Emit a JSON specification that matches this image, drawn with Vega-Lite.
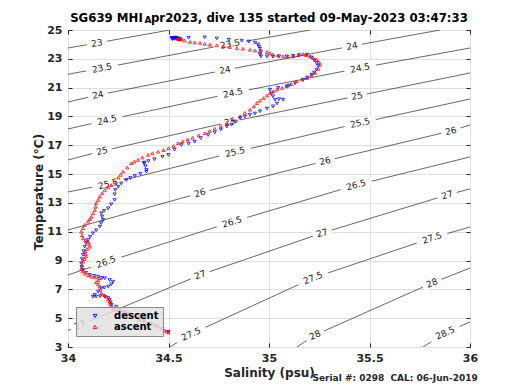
{
  "$schema": "https://vega.github.io/schema/vega-lite/v6.json",
  "width": 402,
  "height": 317,
  "autosize": {"type": "none"},
  "padding": {"left": 68, "top": 30, "right": 50, "bottom": 43},
  "background": "#ffffff",
  "title": {
    "text": "SG639 MHI \u00a0pr2023, dive 135 started 09-May-2023 03:47:33",
    "anchor": "middle",
    "frame": "group",
    "font": "DejaVu Sans",
    "fontSize": 11.75,
    "fontWeight": "bold",
    "color": "#000000",
    "baseline": "alphabetic",
    "offset": 0,
    "dy": 18.5
  },
  "config": {
    "view": {"stroke": "#262626", "strokeWidth": 1},
    "axis": {
      "labelFont": "DejaVu Sans",
      "titleFont": "DejaVu Sans",
      "labelColor": "#262626",
      "titleColor": "#262626",
      "tickColor": "#262626",
      "gridColor": "#dfdfdf",
      "gridWidth": 1
    },
    "legend": {
      "orient": "none",
      "legendX": 8,
      "legendY": 277,
      "fillColor": "rgba(226,226,226,0.85)",
      "strokeColor": "#8a8a8a",
      "padding": 4,
      "labelFont": "DejaVu Sans",
      "labelFontSize": 10,
      "labelFontWeight": "bold",
      "labelColor": "#000000",
      "symbolSize": 14,
      "symbolStrokeWidth": 0.9,
      "symbolOffset": 10,
      "labelOffset": 14,
      "rowPadding": 1
    }
  },
  "datasets": {
    "contours": [
      {"lev": "23", "S": 34.0, "T": 23.75}, {"lev": "23", "S": 34.144, "T": 24.1}, {"lev": "23", "S": 34.507, "T": 25.0},
      {"lev": "23.5", "S": 34.0, "T": 21.93}, {"lev": "23.5", "S": 34.169, "T": 22.36}, {"lev": "23.5", "S": 34.806, "T": 24.03}, {"lev": "23.5", "S": 35.204, "T": 25.0},
      {"lev": "24", "S": 34.0, "T": 20.0}, {"lev": "24", "S": 34.149, "T": 20.49}, {"lev": "24", "S": 34.781, "T": 22.22}, {"lev": "24", "S": 35.413, "T": 23.89}, {"lev": "24", "S": 35.851, "T": 25.0},
      {"lev": "24.5", "S": 34.0, "T": 18.13}, {"lev": "24.5", "S": 34.194, "T": 18.75}, {"lev": "24.5", "S": 34.821, "T": 20.63}, {"lev": "24.5", "S": 35.453, "T": 22.36}, {"lev": "24.5", "S": 36.0, "T": 23.75},
      {"lev": "25", "S": 34.0, "T": 15.98}, {"lev": "25", "S": 34.169, "T": 16.6}, {"lev": "25", "S": 34.806, "T": 18.62}, {"lev": "25", "S": 35.438, "T": 20.42}, {"lev": "25", "S": 36.0, "T": 22.02},
      {"lev": "25.5", "S": 34.0, "T": 13.76}, {"lev": "25.5", "S": 34.199, "T": 14.31}, {"lev": "25.5", "S": 34.831, "T": 16.53}, {"lev": "25.5", "S": 35.453, "T": 18.55}, {"lev": "25.5", "S": 36.0, "T": 20.21},
      {"lev": "26", "S": 34.0, "T": 11.12}, {"lev": "26", "S": 34.657, "T": 13.69}, {"lev": "26", "S": 35.279, "T": 15.91}, {"lev": "26", "S": 35.905, "T": 17.99}, {"lev": "26", "S": 36.0, "T": 18.41},
      {"lev": "26.5", "S": 34.0, "T": 8.0}, {"lev": "26.5", "S": 34.189, "T": 8.9}, {"lev": "26.5", "S": 34.816, "T": 11.68}, {"lev": "26.5", "S": 35.433, "T": 14.24}, {"lev": "26.5", "S": 36.0, "T": 16.19},
      {"lev": "27", "S": 34.0, "T": 4.15}, {"lev": "27", "S": 34.06, "T": 4.53}, {"lev": "27", "S": 34.657, "T": 8.0}, {"lev": "27", "S": 35.264, "T": 10.91}, {"lev": "27", "S": 35.886, "T": 13.55}, {"lev": "27", "S": 36.0, "T": 13.97},
      {"lev": "27.5", "S": 34.507, "T": 3.0}, {"lev": "27.5", "S": 34.612, "T": 3.9}, {"lev": "27.5", "S": 35.219, "T": 7.79}, {"lev": "27.5", "S": 35.811, "T": 10.57}, {"lev": "27.5", "S": 36.0, "T": 11.33},
      {"lev": "28", "S": 35.139, "T": 3.0}, {"lev": "28", "S": 35.229, "T": 3.83}, {"lev": "28", "S": 35.811, "T": 7.44}, {"lev": "28", "S": 36.0, "T": 8.48},
      {"lev": "28.5", "S": 35.766, "T": 3.0}, {"lev": "28.5", "S": 35.876, "T": 3.97}, {"lev": "28.5", "S": 36.0, "T": 4.74}
    ],
    "labels": [
      {"lev": "23", "S": 34.144, "T": 24.1},
      {"lev": "23.5", "S": 34.169, "T": 22.36}, {"lev": "23.5", "S": 34.806, "T": 24.03},
      {"lev": "24", "S": 34.149, "T": 20.49}, {"lev": "24", "S": 34.781, "T": 22.22}, {"lev": "24", "S": 35.413, "T": 23.89},
      {"lev": "24.5", "S": 34.194, "T": 18.75}, {"lev": "24.5", "S": 34.821, "T": 20.63}, {"lev": "24.5", "S": 35.453, "T": 22.36},
      {"lev": "25", "S": 34.169, "T": 16.6}, {"lev": "25", "S": 34.806, "T": 18.62}, {"lev": "25", "S": 35.438, "T": 20.42},
      {"lev": "25.5", "S": 34.199, "T": 14.31}, {"lev": "25.5", "S": 34.831, "T": 16.53}, {"lev": "25.5", "S": 35.453, "T": 18.55},
      {"lev": "26", "S": 34.657, "T": 13.69}, {"lev": "26", "S": 35.279, "T": 15.91}, {"lev": "26", "S": 35.905, "T": 17.99},
      {"lev": "26.5", "S": 34.189, "T": 8.9}, {"lev": "26.5", "S": 34.816, "T": 11.68}, {"lev": "26.5", "S": 35.433, "T": 14.24},
      {"lev": "27", "S": 34.06, "T": 4.53}, {"lev": "27", "S": 34.657, "T": 8.0}, {"lev": "27", "S": 35.264, "T": 10.91}, {"lev": "27", "S": 35.886, "T": 13.55},
      {"lev": "27.5", "S": 34.612, "T": 3.9}, {"lev": "27.5", "S": 35.219, "T": 7.79}, {"lev": "27.5", "S": 35.811, "T": 10.57},
      {"lev": "28", "S": 35.229, "T": 3.83}, {"lev": "28", "S": 35.811, "T": 7.44},
      {"lev": "28.5", "S": 35.876, "T": 3.97}
    ],
    "profile": [
      {"cast": "descent", "S": 34.515, "T": 24.45}, {"cast": "descent", "S": 34.52, "T": 24.40}, {"cast": "descent", "S": 34.525, "T": 24.43}, {"cast": "descent", "S": 34.53, "T": 24.38}, {"cast": "descent", "S": 34.535, "T": 24.44}, {"cast": "descent", "S": 34.54, "T": 24.40}, {"cast": "descent", "S": 34.545, "T": 24.36}, {"cast": "descent", "S": 34.55, "T": 24.42}, {"cast": "descent", "S": 34.555, "T": 24.38}, {"cast": "descent", "S": 34.52, "T": 24.36}, {"cast": "descent", "S": 34.53, "T": 24.47}, {"cast": "descent", "S": 34.54, "T": 24.46},
      {"cast": "descent", "S": 34.6, "T": 24.46}, {"cast": "descent", "S": 34.68, "T": 24.49}, {"cast": "descent", "S": 34.74, "T": 24.42}, {"cast": "descent", "S": 34.8, "T": 24.33}, {"cast": "descent", "S": 34.864, "T": 24.26}, {"cast": "descent", "S": 34.9, "T": 24.2}, {"cast": "descent", "S": 34.93, "T": 24.12}, {"cast": "descent", "S": 34.945, "T": 24.0}, {"cast": "descent", "S": 34.95, "T": 23.85}, {"cast": "descent", "S": 34.955, "T": 23.7}, {"cast": "descent", "S": 34.96, "T": 23.5}, {"cast": "descent", "S": 34.955, "T": 23.3}, {"cast": "descent", "S": 34.96, "T": 23.17}, {"cast": "descent", "S": 34.99, "T": 23.17}, {"cast": "descent", "S": 35.02, "T": 23.15}, {"cast": "descent", "S": 35.05, "T": 23.18}, {"cast": "descent", "S": 35.088, "T": 23.17}, {"cast": "descent", "S": 35.12, "T": 23.2}, {"cast": "descent", "S": 35.15, "T": 23.25}, {"cast": "descent", "S": 35.188, "T": 23.29}, {"cast": "descent", "S": 35.21, "T": 23.1}, {"cast": "descent", "S": 35.225, "T": 22.9}, {"cast": "descent", "S": 35.237, "T": 22.71}, {"cast": "descent", "S": 35.245, "T": 22.5}, {"cast": "descent", "S": 35.237, "T": 22.25}, {"cast": "descent", "S": 35.225, "T": 22.05}, {"cast": "descent", "S": 35.212, "T": 21.9}, {"cast": "descent", "S": 35.19, "T": 21.7}, {"cast": "descent", "S": 35.17, "T": 21.55}, {"cast": "descent", "S": 35.13, "T": 21.3}, {"cast": "descent", "S": 35.1, "T": 21.15}, {"cast": "descent", "S": 35.088, "T": 21.09}, {"cast": "descent", "S": 35.046, "T": 20.98}, {"cast": "descent", "S": 35.005, "T": 20.86}, {"cast": "descent", "S": 35.012, "T": 20.6}, {"cast": "descent", "S": 35.02, "T": 20.4}, {"cast": "descent", "S": 35.03, "T": 20.16}, {"cast": "descent", "S": 35.05, "T": 20.2}, {"cast": "descent", "S": 35.07, "T": 20.16}, {"cast": "descent", "S": 35.04, "T": 19.9}, {"cast": "descent", "S": 35.02, "T": 19.7}, {"cast": "descent", "S": 34.99, "T": 19.55}, {"cast": "descent", "S": 34.955, "T": 19.36}, {"cast": "descent", "S": 34.93, "T": 19.2}, {"cast": "descent", "S": 34.905, "T": 19.12}, {"cast": "descent", "S": 34.88, "T": 19.0}, {"cast": "descent", "S": 34.856, "T": 18.89}, {"cast": "descent", "S": 34.835, "T": 18.65}, {"cast": "descent", "S": 34.814, "T": 18.43}, {"cast": "descent", "S": 34.79, "T": 18.3}, {"cast": "descent", "S": 34.76, "T": 18.1}, {"cast": "descent", "S": 34.73, "T": 17.9}, {"cast": "descent", "S": 34.697, "T": 17.71}, {"cast": "descent", "S": 34.66, "T": 17.5}, {"cast": "descent", "S": 34.63, "T": 17.25}, {"cast": "descent", "S": 34.6, "T": 17.12}, {"cast": "descent", "S": 34.564, "T": 17.02}, {"cast": "descent", "S": 34.53, "T": 16.7}, {"cast": "descent", "S": 34.5, "T": 16.33}, {"cast": "descent", "S": 34.47, "T": 16.2}, {"cast": "descent", "S": 34.43, "T": 16.03}, {"cast": "descent", "S": 34.4, "T": 15.9}, {"cast": "descent", "S": 34.38, "T": 15.8}, {"cast": "descent", "S": 34.378, "T": 15.75}, {"cast": "descent", "S": 34.385, "T": 15.55}, {"cast": "descent", "S": 34.39, "T": 15.3}, {"cast": "descent", "S": 34.39, "T": 15.17}, {"cast": "descent", "S": 34.36, "T": 15.02}, {"cast": "descent", "S": 34.332, "T": 14.87}, {"cast": "descent", "S": 34.31, "T": 14.73}, {"cast": "descent", "S": 34.29, "T": 14.59}, {"cast": "descent", "S": 34.265, "T": 14.35}, {"cast": "descent", "S": 34.25, "T": 14.12}, {"cast": "descent", "S": 34.235, "T": 13.9}, {"cast": "descent", "S": 34.232, "T": 13.6}, {"cast": "descent", "S": 34.232, "T": 13.2}, {"cast": "descent", "S": 34.215, "T": 12.9}, {"cast": "descent", "S": 34.2, "T": 12.63}, {"cast": "descent", "S": 34.18, "T": 12.45}, {"cast": "descent", "S": 34.166, "T": 12.28}, {"cast": "descent", "S": 34.17, "T": 12.05}, {"cast": "descent", "S": 34.174, "T": 11.82}, {"cast": "descent", "S": 34.165, "T": 11.6}, {"cast": "descent", "S": 34.158, "T": 11.35}, {"cast": "descent", "S": 34.14, "T": 11.1}, {"cast": "descent", "S": 34.124, "T": 10.89}, {"cast": "descent", "S": 34.11, "T": 10.65}, {"cast": "descent", "S": 34.1, "T": 10.43}, {"cast": "descent", "S": 34.09, "T": 10.2}, {"cast": "descent", "S": 34.083, "T": 9.96}, {"cast": "descent", "S": 34.078, "T": 9.65}, {"cast": "descent", "S": 34.075, "T": 9.39}, {"cast": "descent", "S": 34.07, "T": 9.1}, {"cast": "descent", "S": 34.066, "T": 8.81}, {"cast": "descent", "S": 34.068, "T": 8.55}, {"cast": "descent", "S": 34.075, "T": 8.34}, {"cast": "descent", "S": 34.09, "T": 8.15}, {"cast": "descent", "S": 34.108, "T": 8.0}, {"cast": "descent", "S": 34.13, "T": 7.93}, {"cast": "descent", "S": 34.15, "T": 7.88}, {"cast": "descent", "S": 34.17, "T": 7.8}, {"cast": "descent", "S": 34.183, "T": 7.77}, {"cast": "descent", "S": 34.207, "T": 7.65}, {"cast": "descent", "S": 34.224, "T": 7.53}, {"cast": "descent", "S": 34.215, "T": 7.35}, {"cast": "descent", "S": 34.2, "T": 7.19}, {"cast": "descent", "S": 34.18, "T": 7.12}, {"cast": "descent", "S": 34.166, "T": 7.07}, {"cast": "descent", "S": 34.15, "T": 6.85}, {"cast": "descent", "S": 34.133, "T": 6.61}, {"cast": "descent", "S": 34.124, "T": 6.49}, {"cast": "descent", "S": 34.14, "T": 6.5}, {"cast": "descent", "S": 34.16, "T": 6.52}, {"cast": "descent", "S": 34.183, "T": 6.49}, {"cast": "descent", "S": 34.2, "T": 6.4}, {"cast": "descent", "S": 34.207, "T": 6.26}, {"cast": "descent", "S": 34.212, "T": 6.1}, {"cast": "descent", "S": 34.216, "T": 5.92}, {"cast": "descent", "S": 34.24, "T": 5.8}, {"cast": "descent", "S": 34.26, "T": 5.6}, {"cast": "descent", "S": 34.28, "T": 5.45}, {"cast": "descent", "S": 34.3, "T": 5.33}, {"cast": "descent", "S": 34.32, "T": 5.2}, {"cast": "descent", "S": 34.35, "T": 5.0}, {"cast": "descent", "S": 34.38, "T": 4.8}, {"cast": "descent", "S": 34.41, "T": 4.62}, {"cast": "descent", "S": 34.44, "T": 4.45}, {"cast": "descent", "S": 34.47, "T": 4.25}, {"cast": "descent", "S": 34.5, "T": 4.05},
      {"cast": "ascent", "S": 34.5, "T": 4.0}, {"cast": "ascent", "S": 34.49, "T": 4.08}, {"cast": "ascent", "S": 34.48, "T": 4.15}, {"cast": "ascent", "S": 34.465, "T": 4.28}, {"cast": "ascent", "S": 34.45, "T": 4.41}, {"cast": "ascent", "S": 34.435, "T": 4.5}, {"cast": "ascent", "S": 34.42, "T": 4.6}, {"cast": "ascent", "S": 34.4, "T": 4.68}, {"cast": "ascent", "S": 34.38, "T": 4.76}, {"cast": "ascent", "S": 34.365, "T": 4.85}, {"cast": "ascent", "S": 34.35, "T": 4.95}, {"cast": "ascent", "S": 34.33, "T": 5.1}, {"cast": "ascent", "S": 34.315, "T": 5.22}, {"cast": "ascent", "S": 34.3, "T": 5.28}, {"cast": "ascent", "S": 34.29, "T": 5.33}, {"cast": "ascent", "S": 34.275, "T": 5.4}, {"cast": "ascent", "S": 34.265, "T": 5.45}, {"cast": "ascent", "S": 34.25, "T": 5.52}, {"cast": "ascent", "S": 34.24, "T": 5.57}, {"cast": "ascent", "S": 34.23, "T": 5.62}, {"cast": "ascent", "S": 34.224, "T": 5.68}, {"cast": "ascent", "S": 34.215, "T": 5.85}, {"cast": "ascent", "S": 34.21, "T": 6.0}, {"cast": "ascent", "S": 34.207, "T": 6.14}, {"cast": "ascent", "S": 34.2, "T": 6.3}, {"cast": "ascent", "S": 34.19, "T": 6.49}, {"cast": "ascent", "S": 34.18, "T": 6.6}, {"cast": "ascent", "S": 34.166, "T": 6.72}, {"cast": "ascent", "S": 34.16, "T": 6.95}, {"cast": "ascent", "S": 34.158, "T": 7.19}, {"cast": "ascent", "S": 34.15, "T": 7.35}, {"cast": "ascent", "S": 34.14, "T": 7.5}, {"cast": "ascent", "S": 34.15, "T": 7.62}, {"cast": "ascent", "S": 34.158, "T": 7.77}, {"cast": "ascent", "S": 34.135, "T": 7.83}, {"cast": "ascent", "S": 34.116, "T": 7.88}, {"cast": "ascent", "S": 34.1, "T": 7.98}, {"cast": "ascent", "S": 34.083, "T": 8.1}, {"cast": "ascent", "S": 34.072, "T": 8.25}, {"cast": "ascent", "S": 34.066, "T": 8.43}, {"cast": "ascent", "S": 34.07, "T": 8.65}, {"cast": "ascent", "S": 34.075, "T": 8.92}, {"cast": "ascent", "S": 34.082, "T": 9.1}, {"cast": "ascent", "S": 34.09, "T": 9.27}, {"cast": "ascent", "S": 34.088, "T": 9.45}, {"cast": "ascent", "S": 34.086, "T": 9.62}, {"cast": "ascent", "S": 34.095, "T": 9.8}, {"cast": "ascent", "S": 34.108, "T": 9.96}, {"cast": "ascent", "S": 34.105, "T": 10.15}, {"cast": "ascent", "S": 34.1, "T": 10.31}, {"cast": "ascent", "S": 34.088, "T": 10.42}, {"cast": "ascent", "S": 34.075, "T": 10.54}, {"cast": "ascent", "S": 34.07, "T": 10.75}, {"cast": "ascent", "S": 34.066, "T": 11.0}, {"cast": "ascent", "S": 34.074, "T": 11.25}, {"cast": "ascent", "S": 34.083, "T": 11.47}, {"cast": "ascent", "S": 34.1, "T": 11.7}, {"cast": "ascent", "S": 34.108, "T": 11.87}, {"cast": "ascent", "S": 34.116, "T": 12.04}, {"cast": "ascent", "S": 34.125, "T": 12.27}, {"cast": "ascent", "S": 34.133, "T": 12.5}, {"cast": "ascent", "S": 34.137, "T": 12.73}, {"cast": "ascent", "S": 34.14, "T": 12.97}, {"cast": "ascent", "S": 34.15, "T": 13.2}, {"cast": "ascent", "S": 34.158, "T": 13.43}, {"cast": "ascent", "S": 34.17, "T": 13.67}, {"cast": "ascent", "S": 34.183, "T": 13.9}, {"cast": "ascent", "S": 34.2, "T": 14.08}, {"cast": "ascent", "S": 34.215, "T": 14.24}, {"cast": "ascent", "S": 34.232, "T": 14.45}, {"cast": "ascent", "S": 34.25, "T": 14.75}, {"cast": "ascent", "S": 34.262, "T": 14.95}, {"cast": "ascent", "S": 34.274, "T": 15.17}, {"cast": "ascent", "S": 34.295, "T": 15.45}, {"cast": "ascent", "S": 34.315, "T": 15.75}, {"cast": "ascent", "S": 34.33, "T": 15.86}, {"cast": "ascent", "S": 34.348, "T": 15.98}, {"cast": "ascent", "S": 34.37, "T": 16.15}, {"cast": "ascent", "S": 34.398, "T": 16.33}, {"cast": "ascent", "S": 34.42, "T": 16.45}, {"cast": "ascent", "S": 34.448, "T": 16.55}, {"cast": "ascent", "S": 34.475, "T": 16.67}, {"cast": "ascent", "S": 34.5, "T": 16.79}, {"cast": "ascent", "S": 34.525, "T": 16.95}, {"cast": "ascent", "S": 34.547, "T": 17.14}, {"cast": "ascent", "S": 34.57, "T": 17.28}, {"cast": "ascent", "S": 34.595, "T": 17.4}, {"cast": "ascent", "S": 34.62, "T": 17.52}, {"cast": "ascent", "S": 34.65, "T": 17.68}, {"cast": "ascent", "S": 34.68, "T": 17.83}, {"cast": "ascent", "S": 34.705, "T": 18.0}, {"cast": "ascent", "S": 34.73, "T": 18.15}, {"cast": "ascent", "S": 34.76, "T": 18.35}, {"cast": "ascent", "S": 34.79, "T": 18.55}, {"cast": "ascent", "S": 34.82, "T": 18.75}, {"cast": "ascent", "S": 34.856, "T": 19.01}, {"cast": "ascent", "S": 34.88, "T": 19.25}, {"cast": "ascent", "S": 34.905, "T": 19.47}, {"cast": "ascent", "S": 34.925, "T": 19.7}, {"cast": "ascent", "S": 34.94, "T": 19.93}, {"cast": "ascent", "S": 34.955, "T": 20.1}, {"cast": "ascent", "S": 34.972, "T": 20.28}, {"cast": "ascent", "S": 34.99, "T": 20.45}, {"cast": "ascent", "S": 35.005, "T": 20.63}, {"cast": "ascent", "S": 35.022, "T": 20.75}, {"cast": "ascent", "S": 35.04, "T": 20.86}, {"cast": "ascent", "S": 35.065, "T": 20.98}, {"cast": "ascent", "S": 35.088, "T": 21.09}, {"cast": "ascent", "S": 35.11, "T": 21.25}, {"cast": "ascent", "S": 35.138, "T": 21.44}, {"cast": "ascent", "S": 35.165, "T": 21.55}, {"cast": "ascent", "S": 35.188, "T": 21.67}, {"cast": "ascent", "S": 35.21, "T": 21.85}, {"cast": "ascent", "S": 35.229, "T": 22.02}, {"cast": "ascent", "S": 35.245, "T": 22.3}, {"cast": "ascent", "S": 35.254, "T": 22.59}, {"cast": "ascent", "S": 35.248, "T": 22.78}, {"cast": "ascent", "S": 35.237, "T": 22.94}, {"cast": "ascent", "S": 35.22, "T": 23.06}, {"cast": "ascent", "S": 35.204, "T": 23.17}, {"cast": "ascent", "S": 35.185, "T": 23.25}, {"cast": "ascent", "S": 35.17, "T": 23.33}, {"cast": "ascent", "S": 35.145, "T": 23.25}, {"cast": "ascent", "S": 35.12, "T": 23.17}, {"cast": "ascent", "S": 35.095, "T": 23.17}, {"cast": "ascent", "S": 35.07, "T": 23.17}, {"cast": "ascent", "S": 35.045, "T": 23.22}, {"cast": "ascent", "S": 35.02, "T": 23.29}, {"cast": "ascent", "S": 35.005, "T": 23.38}, {"cast": "ascent", "S": 34.99, "T": 23.47}, {"cast": "ascent", "S": 34.955, "T": 23.52}, {"cast": "ascent", "S": 34.93, "T": 23.58}, {"cast": "ascent", "S": 34.905, "T": 23.63}, {"cast": "ascent", "S": 34.87, "T": 23.7}, {"cast": "ascent", "S": 34.84, "T": 23.75}, {"cast": "ascent", "S": 34.805, "T": 23.82}, {"cast": "ascent", "S": 34.773, "T": 23.87}, {"cast": "ascent", "S": 34.74, "T": 23.93}, {"cast": "ascent", "S": 34.706, "T": 23.98}, {"cast": "ascent", "S": 34.68, "T": 24.04}, {"cast": "ascent", "S": 34.657, "T": 24.1}, {"cast": "ascent", "S": 34.63, "T": 24.13}, {"cast": "ascent", "S": 34.607, "T": 24.17}, {"cast": "ascent", "S": 34.58, "T": 24.26}, {"cast": "ascent", "S": 34.557, "T": 24.33}, {"cast": "ascent", "S": 34.55, "T": 24.36}, {"cast": "ascent", "S": 34.545, "T": 24.4}, {"cast": "ascent", "S": 34.56, "T": 24.4}, {"cast": "ascent", "S": 34.565, "T": 24.38}
    ]
  },
  "layer": [
    {
      "data": {"name": "contours"},
      "mark": {"type": "line", "stroke": "#262626", "strokeWidth": 0.7, "clip": true},
      "encoding": {
        "x": {"field": "S", "type": "quantitative", "scale": {"domain": [34, 36], "nice": false, "zero": false},
          "axis": {"orient": "bottom", "values": [34, 34.5, 35, 35.5, 36], "format": "~g", "grid": true, "domain": false, "tickSize": -4, "labelPadding": 9, "labelFontSize": 11, "labelFontWeight": "bold", "labelFlush": false, "labelOverlap": false,
            "title": "Salinity (psu)", "titleFontSize": 12, "titleFontWeight": "bold", "titleY": 29, "titleBaseline": "alphabetic"}},
        "y": {"field": "T", "type": "quantitative", "scale": {"domain": [3, 25], "nice": false, "zero": false},
          "axis": {"orient": "left", "values": [3, 5, 7, 9, 11, 13, 15, 17, 19, 21, 23, 25], "format": "d", "grid": true, "domain": false, "tickSize": -4, "labelPadding": 10, "labelFontSize": 11, "labelFontWeight": "bold", "labelFlush": false, "labelOverlap": false,
            "title": "Temperature (°C)", "titleFontSize": 12, "titleFontWeight": "bold", "titleAngle": -90, "titleX": -25.5, "titleY": 161.5, "titleAlign": "center", "titleBaseline": "alphabetic"}},
        "detail": {"field": "lev", "type": "nominal"},
        "order": {"field": "S", "type": "quantitative"}
      }
    },
    {
      "data": {"name": "labels"},
      "transform": [{"filter": "indexof(datum.lev, '.') < 0"}],
      "mark": {"type": "point", "shape": "M-1,-0.45L1,-0.45L1,0.45L-1,0.45Z", "filled": true, "fill": "#ffffff", "strokeWidth": 0, "opacity": 1, "size": 400},
      "encoding": {
        "x": {"field": "S", "type": "quantitative", "scale": {"domain": [34, 36], "nice": false, "zero": false},
          "axis": {"orient": "top", "values": [34, 34.5, 35, 35.5, 36], "labels": false, "grid": false, "domain": false, "tickSize": -4,
            "title": "A", "titleFontSize": 9, "titleFontWeight": "bold", "titleColor": "#000000", "titleX": 76, "titleY": -7.5, "titleAlign": "left", "titleBaseline": "alphabetic", "titleAngle": 0}},
        "y": {"field": "T", "type": "quantitative", "scale": {"domain": [3, 25], "nice": false, "zero": false},
          "axis": {"orient": "right", "values": [3, 5, 7, 9, 11, 13, 15, 17, 19, 21, 23, 25], "labels": false, "grid": false, "domain": false, "tickSize": -4,
            "title": "Serial #: 0298\u00a0 CAL: 06-Jun-2019", "titleFontSize": 9, "titleFontWeight": "bold", "titleColor": "#262626", "titleAngle": 0, "titleX": -158, "titleY": 350, "titleAlign": "left", "titleBaseline": "alphabetic"}},
        "angle": {"field": "T", "type": "quantitative", "scale": {"domain": [3, 8, 12, 17, 25], "range": [-25, -21, -16.5, -13.5, -10]}, "legend": null}
      }
    },
    {
      "data": {"name": "labels"},
      "transform": [{"filter": "indexof(datum.lev, '.') >= 0"}],
      "mark": {"type": "point", "shape": "M-1,-0.28L1,-0.28L1,0.28L-1,0.28Z", "filled": true, "fill": "#ffffff", "strokeWidth": 0, "opacity": 1, "size": 1024},
      "encoding": {
        "x": {"field": "S", "type": "quantitative", "scale": {"domain": [34, 36], "nice": false, "zero": false}, "axis": null},
        "y": {"field": "T", "type": "quantitative", "scale": {"domain": [3, 25], "nice": false, "zero": false}, "axis": null},
        "angle": {"field": "T", "type": "quantitative", "scale": {"domain": [3, 8, 12, 17, 25], "range": [-25, -21, -16.5, -13.5, -10]}, "legend": null}
      }
    },
    {
      "data": {"name": "labels"},
      "mark": {"type": "text", "font": "DejaVu Sans", "fontSize": 9, "color": "#1a1a1a", "align": "center", "baseline": "middle"},
      "encoding": {
        "x": {"field": "S", "type": "quantitative", "scale": {"domain": [34, 36], "nice": false, "zero": false}, "axis": null},
        "y": {"field": "T", "type": "quantitative", "scale": {"domain": [3, 25], "nice": false, "zero": false}, "axis": null},
        "text": {"field": "lev", "type": "nominal"},
        "angle": {"field": "T", "type": "quantitative", "scale": {"domain": [3, 8, 12, 17, 25], "range": [-25, -21, -16.5, -13.5, -10]}, "legend": null}
      }
    },
    {
      "data": {"name": "profile"},
      "mark": {"type": "point", "filled": false, "size": 10, "strokeWidth": 0.8, "opacity": 1, "clip": true},
      "encoding": {
        "x": {"field": "S", "type": "quantitative", "scale": {"domain": [34, 36], "nice": false, "zero": false}, "axis": null},
        "y": {"field": "T", "type": "quantitative", "scale": {"domain": [3, 25], "nice": false, "zero": false}, "axis": null},
        "color": {"field": "cast", "type": "nominal", "scale": {"domain": ["descent", "ascent"], "range": ["#0000ff", "#ff0000"]}, "legend": {"title": null}},
        "shape": {"field": "cast", "type": "nominal", "scale": {"domain": ["descent", "ascent"], "range": ["triangle-down", "triangle-up"]}, "legend": {"title": null}}
      }
    }
  ],
  "resolve": {"axis": {"x": "independent", "y": "independent"}}
}
